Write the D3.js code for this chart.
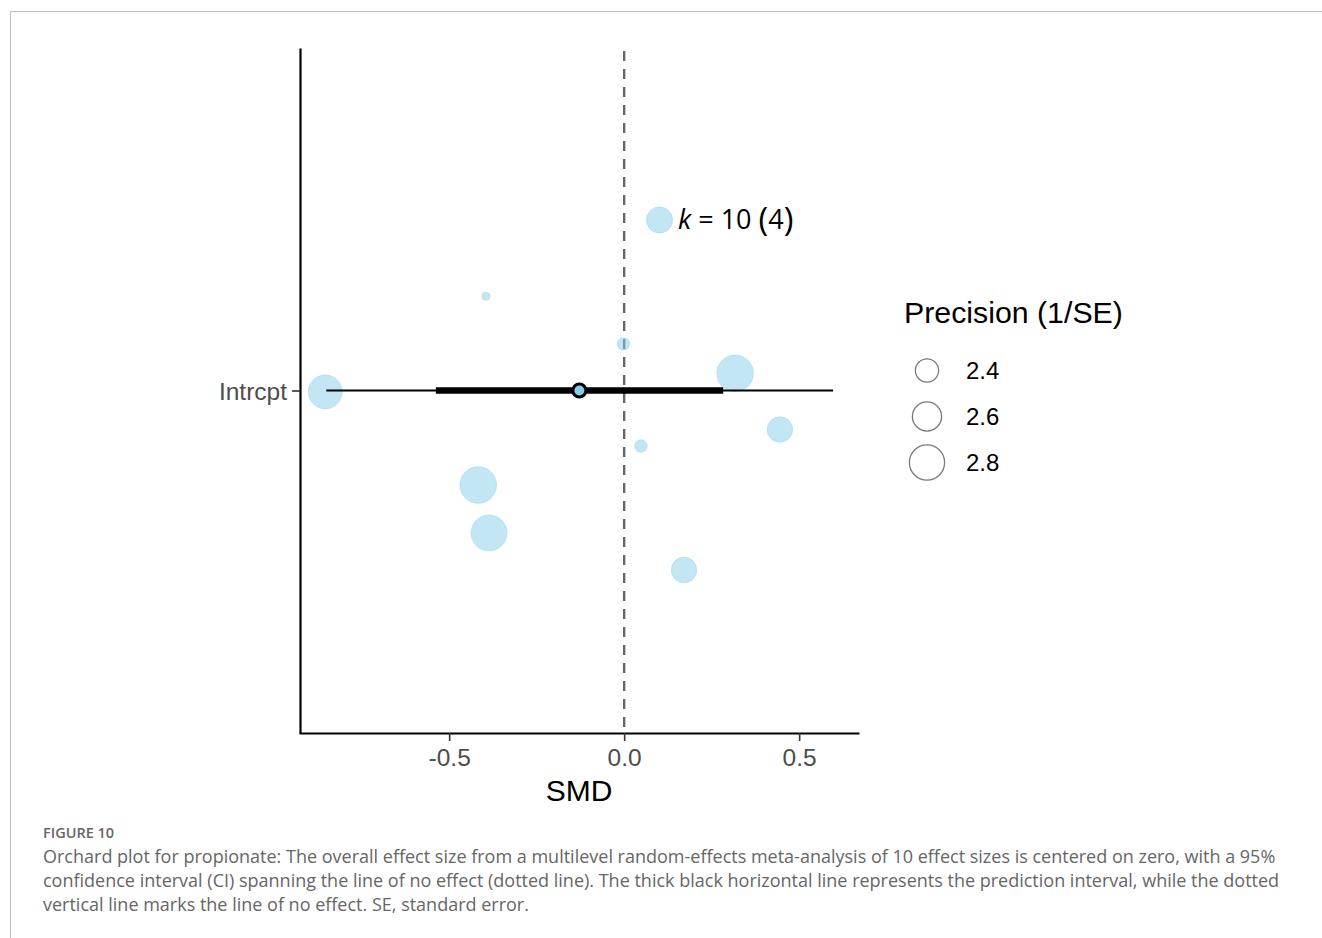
<!DOCTYPE html>
<html>
<head>
<meta charset="utf-8">
<script src="https://cdn.jsdelivr.net/npm/d3@7"></script>
<style>
  body { margin: 0; background: #fff; }
  svg { display: block; }
</style>
</head>
<body>
<div id="chart"></div>
<script>
// effect sizes (SMD), precision (1/SE) and vertical jitter (fraction of row height)
var smd       = [-0.854, -0.395, -0.002, 0.101, 0.317, 0.445, 0.048, -0.417, -0.386, 0.171];
var precision = [2.71, 1.85, 2.00, 2.45, 2.80, 2.43, 2.00, 2.80, 2.78, 2.43];
var jitter    = [-0.002, 0.1375, 0.068, 0.249, 0.025, -0.057, -0.081, -0.138, -0.208, -0.262];

// overall estimate, confidence interval and prediction interval
var rows = ['Intrcpt'];
var estimate = -0.128;
var ci = [-0.538, 0.283];
var pi = [-0.851, 0.597];
var kLabel = { k: 10, studies: 4 };

var xTicks = [-0.5, 0, 0.5];
var legendValues = [2.4, 2.6, 2.8];

var captionTitle = 'FIGURE 10';
var captionLines = [
    'Orchard plot for propionate: The overall effect size from a multilevel random-effects meta-analysis of 10 effect sizes is centered on zero, with a 95%',
    'confidence interval (CI) spanning the line of no effect (dotted line). The thick black horizontal line represents the prediction interval, while the dotted',
    'vertical line marks the line of no effect. SE, standard error.'
];

var W = 1322, H = 938;
var plot = { left: 299, right: 859, top: 48, bottom: 733 };
var sans = "'Liberation Sans', Arial, sans-serif";

var svg = d3.select('#chart')
    .append('svg')
    .attr('width', W)
    .attr('height', H);

// page frame
svg.append('path')
    .attr('d', `M10.5,${H} L10.5,11.5 L${W},11.5`)
    .attr('fill', 'none')
    .attr('stroke', '#bdbdbd')
    .attr('stroke-width', 1);

var xScale = d3.scaleLinear()
    .domain([-0.929, 0.671])
    .range([plot.left, plot.right]);

var yScale = d3.scalePoint()
    .domain(rows)
    .range([plot.bottom, plot.top])
    .padding(0.5);

var rowHeight = plot.bottom - plot.top;

var rScale = d3.scaleLinear()
    .domain([2.4, 2.8])
    .range([12.3, 18.3]);

// line of no effect
svg.append('line')
    .attr('x1', xScale(0))
    .attr('x2', xScale(0))
    .attr('y1', plot.top + 3)
    .attr('y2', plot.bottom)
    .attr('stroke', '#666')
    .attr('stroke-width', 2.4)
    .attr('stroke-dasharray', '10,8');

// effect size points
var pts = smd.map(function (d, i) {
    return { x: d, p: precision[i], j: jitter[i] };
});

svg.append('g')
    .selectAll('circle')
    .data(pts)
    .enter()
    .append('circle')
    .attr('cx', function (d) { return xScale(d.x); })
    .attr('cy', function (d) { return yScale('Intrcpt') - d.j * rowHeight; })
    .attr('r', function (d) { return rScale(d.p); })
    .attr('fill', '#87CEEB')
    .attr('fill-opacity', 0.5)
    .attr('stroke', '#87CEEB')
    .attr('stroke-opacity', 0.4)
    .attr('stroke-width', 1);

var yc = yScale('Intrcpt');

// prediction interval
svg.append('line')
    .attr('x1', xScale(pi[0]))
    .attr('x2', xScale(pi[1]))
    .attr('y1', yc)
    .attr('y2', yc)
    .attr('stroke', '#000')
    .attr('stroke-width', 2);

// confidence interval
svg.append('line')
    .attr('x1', xScale(ci[0]))
    .attr('x2', xScale(ci[1]))
    .attr('y1', yc)
    .attr('y2', yc)
    .attr('stroke', '#000')
    .attr('stroke-width', 6.5);

// overall estimate
svg.append('circle')
    .attr('cx', xScale(estimate))
    .attr('cy', yc)
    .attr('r', 6.5)
    .attr('fill', '#87CEEB')
    .attr('stroke', '#000')
    .attr('stroke-width', 3);

// axes
var xAxis = d3.axisBottom(xScale)
    .tickValues(xTicks)
    .tickFormat(function (d) { return d.toFixed(1); })
    .tickSize(8)
    .tickSizeOuter(0);

var gx = svg.append('g')
    .attr('transform', `translate(0,${plot.bottom})`)
    .call(xAxis);

gx.select('.domain')
    .attr('stroke', '#000')
    .attr('stroke-width', 2.2);
gx.selectAll('.tick line')
    .attr('stroke', '#333')
    .attr('stroke-width', 1.6);
gx.selectAll('.tick text')
    .attr('dy', 0)
    .attr('y', 33)
    .attr('fill', '#4d4d4d')
    .style('font-family', sans)
    .style('font-size', '24.5px');

var yAxis = d3.axisLeft(yScale)
    .tickSize(8)
    .tickSizeOuter(0);

var gy = svg.append('g')
    .attr('transform', `translate(${plot.left + 1},0)`)
    .call(yAxis);

gy.select('.domain')
    .attr('stroke', '#000')
    .attr('stroke-width', 2.2);
gy.selectAll('.tick line')
    .attr('stroke', '#333')
    .attr('stroke-width', 1.6);
gy.selectAll('.tick text')
    .attr('x', -13)
    .attr('dy', '0.35em')
    .attr('fill', '#4d4d4d')
    .style('font-family', sans)
    .style('font-size', '24.5px');

// x axis title
svg.append('text')
    .attr('x', (plot.left + plot.right) / 2)
    .attr('y', 801)
    .attr('text-anchor', 'middle')
    .attr('fill', '#000')
    .style('font-family', sans)
    .style('font-size', '30px')
    .text('SMD');

// k label
var kText = svg.append('text')
    .attr('x', 678)
    .attr('y', 229)
    .attr('fill', '#000')
    .style('font-family', "'Open Sans', 'DejaVu Sans', sans-serif")
    .style('font-size', '27px');
kText.append('tspan').style('font-style', 'italic').text('k');
kText.append('tspan').text(' = ' + kLabel.k + ' ');
kText.append('tspan').style('font-size', '33px').attr('dy', 2).text('(');
kText.append('tspan').attr('dy', -2).text(kLabel.studies);
kText.append('tspan').style('font-size', '33px').attr('dy', 2).text(')');

// size legend
var legend = svg.append('g');
legend.append('text')
    .attr('x', 904)
    .attr('y', 323)
    .attr('fill', '#000')
    .style('font-family', sans)
    .style('font-size', '30.3px')
    .text('Precision (1/SE)');

var legendY = d3.scalePoint()
    .domain(legendValues)
    .range([370.5, 462.5]);

var li = legend.selectAll('.li')
    .data(legendValues)
    .enter()
    .append('g')
    .attr('transform', function (d) { return `translate(927,${legendY(d)})`; });

li.append('circle')
    .attr('r', function (d) { return rScale(d) - 0.7; })
    .attr('fill', 'none')
    .attr('stroke', '#7a7a7a')
    .attr('stroke-width', 1.3);

li.append('text')
    .attr('x', 39)
    .attr('dy', '0.35em')
    .attr('fill', '#000')
    .style('font-family', sans)
    .style('font-size', '24px')
    .text(function (d) { return d.toFixed(1); });

// caption
svg.append('text')
    .attr('x', 43)
    .attr('y', 838)
    .attr('fill', '#666')
    .style('font-family', "'Open Sans', Lato, sans-serif")
    .style('font-size', '14.5px')
    .style('font-weight', 600)
    .text(captionTitle);

svg.append('g')
    .selectAll('text')
    .data(captionLines)
    .enter()
    .append('text')
    .attr('x', 43)
    .attr('y', function (d, i) { return 863 + i * 24; })
    .attr('fill', '#666')
    .style('font-family', "'Open Sans', Lato, sans-serif")
    .style('font-size', '18px')
    .text(function (d) { return d; });
</script>
</body>
</html>
